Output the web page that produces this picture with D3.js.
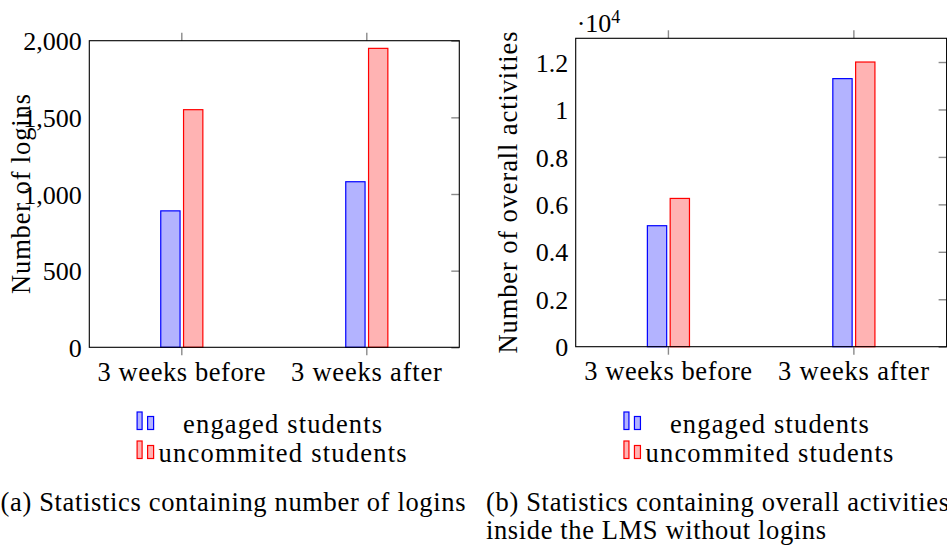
<!DOCTYPE html>
<html>
<head>
<meta charset="utf-8">
<script src="https://cdn.jsdelivr.net/npm/d3@7"></script>
<style>
  html, body { margin: 0; padding: 0; background: #fff; }
  svg { display: block; }
</style>
</head>
<body>
<svg id="chart" width="947" height="549"></svg>
<script>
// ---- data ----
const categories = ["3 weeks before", "3 weeks after"];
const seriesNames = ["engaged students", "uncommited students"];
const loginsEngaged = [890, 1080];
const loginsUncommitted = [1550, 1950];
const activitiesEngaged = [5100, 11300];
const activitiesUncommitted = [6250, 12000];
const loginTicks = [0, 500, 1000, 1500, 2000];
const activityTicks = [0, 2000, 4000, 6000, 8000, 10000, 12000];
const loginsYLabel = "Number of logins";
const activitiesYLabel = "Number of overall activities";
const captionA = ["(a) Statistics containing number of logins"];
const captionB = ["(b) Statistics containing overall activities", "inside the LMS without logins"];

// ---- styling / layout ----
const FONT = 26.5;
const FAMILY = "'Liberation Serif', serif";
const colors = {
  engaged: { fill: "#b3b3ff", stroke: "#0000ff" },
  uncommitted: { fill: "#ffb3b3", stroke: "#ff0000" }
};
const textWidths = {
  "3 weeks before": 168, "3 weeks after": 151,
  "engaged students": 199, "uncommited students": 248,
  "Number of logins": 200, "Number of overall activities": 322,
  "(a) Statistics containing number of logins": 465,
  "(b) Statistics containing overall activities": 463,
  "inside the LMS without logins": 340
};
function styleText(sel, size) {
  sel.style("font-family", FAMILY).style("font-size", (size || FONT) + "px").attr("fill", "#000");
}
function fit(sel) {
  sel.each(function () {
    const t = d3.select(this).text();
    const w = textWidths[t];
    if (!w) return;
    const nat = this.getComputedTextLength();
    const ls = (w - nat) / Math.max(1, t.length - 1);
    d3.select(this).style("letter-spacing", ls.toFixed(3) + "px");
    // compensate trailing spacing for centered text
    if (d3.select(this).attr("text-anchor") === "middle") {
      d3.select(this).attr("dx", (ls / 2).toFixed(3));
    }
  });
}

const svg = d3.select("#chart");

const panels = [
  {
    x0: 89.3, x1: 459.3, y0: 347.3, y1: 40.7, yMax: 2000,
    ticks: loginTicks, fmt: d3.format(","),
    engaged: loginsEngaged, uncommitted: loginsUncommitted,
    ylabel: loginsYLabel, ylabelX: 29.5, catBaseline: 381.5,
    caption: captionA, captionX: 0.5, multiplier: false
  },
  {
    x0: 575.7, x1: 946.6, y0: 346.7, y1: 38.3, yMax: 13000,
    ticks: activityTicks, fmt: v => d3.format("~g")(v / 1e4),
    engaged: activitiesEngaged, uncommitted: activitiesUncommitted,
    ylabel: activitiesYLabel, ylabelX: 517, catBaseline: 380,
    caption: captionB, captionX: 486, multiplier: true
  }
];

panels.forEach(p => {
  const g = svg.append("g");
  const x = d3.scaleBand().domain(categories).range([p.x0, p.x1]).paddingInner(0).paddingOuter(0);
  const y = d3.scaleLinear().domain([0, p.yMax]).range([p.y0, p.y1]);
  const barW = 19.3, off = 11.4;
  const cx = d => x(d) + x.bandwidth() / 2;

  // bars
  const series = [
    { vals: p.engaged, c: colors.engaged, dx: -off },
    { vals: p.uncommitted, c: colors.uncommitted, dx: off }
  ];
  series.forEach(s => {
    g.selectAll(null).data(categories).enter().append("rect")
      .attr("x", d => cx(d) + s.dx - barW / 2)
      .attr("y", (d, i) => y(s.vals[i]))
      .attr("width", barW)
      .attr("height", (d, i) => y(0) - y(s.vals[i]))
      .attr("fill", s.c.fill)
      .attr("stroke", s.c.stroke)
      .attr("stroke-width", 1.2);
  });

  // x axis bottom (ticks outside + labels)
  const xb = g.append("g").attr("transform", `translate(0,${p.y0})`)
    .call(d3.axisBottom(x).tickSize(8).tickSizeOuter(0));
  xb.select(".domain").remove();
  xb.attr("font-family", null).attr("font-size", null);
  xb.selectAll(".tick").attr("transform", d => `translate(${cx(d)},0)`);
  xb.selectAll(".tick line").attr("stroke", "#8a8a8a").attr("stroke-width", 1.4);
  xb.selectAll(".tick text").attr("y", p.catBaseline - p.y0).attr("dy", 0)
    .call(styleText).call(fit);

  // x axis top ticks
  const xt = g.append("g").attr("transform", `translate(0,${p.y1})`)
    .call(d3.axisTop(x).tickSize(8).tickSizeOuter(0).tickFormat(""));
  xt.select(".domain").remove();
  xt.selectAll(".tick").attr("transform", d => `translate(${cx(d)},0)`);
  xt.selectAll(".tick line").attr("stroke", "#8a8a8a").attr("stroke-width", 1.4);

  // y axis left labels
  const yl = g.append("g").attr("transform", `translate(${p.x0},0)`)
    .call(d3.axisLeft(y).tickValues(p.ticks).tickSize(0).tickPadding(7.5).tickFormat(p.fmt));
  yl.select(".domain").remove();
  yl.attr("font-family", null).attr("font-size", null);
  yl.selectAll(".tick text").call(styleText, 26).attr("dy", "0.35em");

  // y axis right inner ticks
  const yr = g.append("g").attr("transform", `translate(${p.x1},0)`)
    .call(d3.axisRight(y).tickValues(p.ticks).tickSize(-8).tickFormat(""));
  yr.select(".domain").remove();
  yr.selectAll(".tick line").attr("stroke", "#8a8a8a").attr("stroke-width", 1.4);

  // frame
  g.append("rect")
    .attr("x", p.x0).attr("y", p.y1)
    .attr("width", p.x1 - p.x0).attr("height", p.y0 - p.y1)
    .attr("fill", "none").attr("stroke", "#000").attr("stroke-width", 1.1);

  // y label
  const yMid = (p.y0 + p.y1) / 2;
  g.append("text")
    .attr("transform", `translate(${p.ylabelX},${yMid}) rotate(-90)`)
    .attr("text-anchor", "middle")
    .text(p.ylabel).call(styleText).call(fit);

  // multiplier
  if (p.multiplier) {
    const m = g.append("text").attr("x", p.x0 + 1).attr("y", 31.7).call(styleText, 26);
    m.append("tspan").text("\u00B710");
    m.append("tspan").style("font-size", "18px").attr("dy", -9).text("4");
  }

  // legend
  const legCx = (p.x0 + p.x1) / 2 + 8.3;
  const legBase = [433, 462];
  const legColors = [colors.engaged, colors.uncommitted];
  seriesNames.forEach((name, i) => {
    const b = legBase[i];
    const ix = legCx - 145.5;
    g.append("rect").attr("x", ix).attr("y", b - 21).attr("width", 5).attr("height", 17.5)
      .attr("fill", legColors[i].fill).attr("stroke", legColors[i].stroke).attr("stroke-width", 1.2);
    g.append("rect").attr("x", ix + 10.5).attr("y", b - 16.5).attr("width", 6).attr("height", 13)
      .attr("fill", legColors[i].fill).attr("stroke", legColors[i].stroke).attr("stroke-width", 1.2);
    g.append("text").attr("x", legCx).attr("y", b).attr("text-anchor", "middle")
      .text(name).call(styleText).call(fit);
  });

  // caption
  p.caption.forEach((line, i) => {
    g.append("text").attr("x", p.captionX).attr("y", 511 + i * 28)
      .text(line).call(styleText).call(fit);
  });
});
</script>
</body>
</html>
